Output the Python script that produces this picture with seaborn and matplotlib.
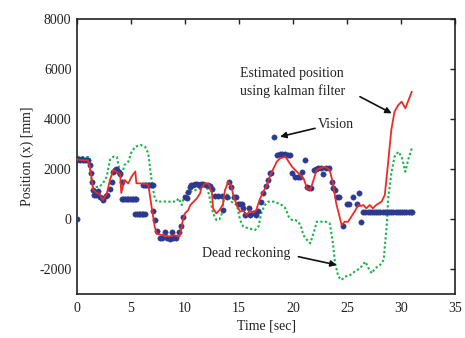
import numpy as np
import pandas as pd
import matplotlib
matplotlib.use("Agg")
import matplotlib.pyplot as plt
import seaborn as sns

# ---- Kalman filter estimate (red) ----
kal_t = [0, 0.5, 1.0, 1.2, 1.5, 1.8, 2.1, 2.4, 2.75, 3.05, 3.36, 3.7, 4.0, 4.1, 4.4, 4.75,
         5.06, 5.4, 5.5, 6.0, 6.6, 6.9, 7.2, 7.4, 8.0, 8.5, 9.0, 9.5, 9.7, 9.8, 10.0, 10.3,
         10.5, 10.8, 11.1, 11.4, 11.5, 11.85, 12.2, 12.5, 12.6, 12.9, 13.2, 13.5, 13.7, 14.0,
         14.3, 14.5, 14.8, 15.1, 15.4, 15.7, 16.0, 16.3, 16.6, 16.9, 17.25, 17.6, 17.9, 18.2,
         18.5, 18.8, 19.3, 19.6, 19.9, 20.2, 20.5, 20.8, 21.0, 21.3, 21.6, 21.9, 22.2, 22.5,
         22.96, 23.4, 23.7, 24.0, 24.35, 24.5, 24.8, 25.1, 25.4, 25.7, 26.05, 26.3, 26.5, 26.8,
         27.1, 27.4, 27.7, 28.2, 28.5, 28.8, 29.1, 29.4, 29.75, 30.06, 30.4, 30.7, 31.0]
kal_v = [2380, 2350, 2350, 2100, 1160, 1050, 1000, 760, 1000, 1560, 1960, 1880, 1800, 1040, 1560, 1420,
         1700, 1900, 1430, 1420, 1380, 500, -320, -600, -650, -700, -650, -700, -307, -40, 227, 360,
         560, 693, 827, 1027, 1227, 1427, 1400, 1027, 427, 227, 360, 560, 1150, 1493,
         1300, 893, 560, 293, 330, 160, 327, 250, 360, 760, 1093, 1360, 1760, 2027,
         2293, 2427, 2493, 2293, 2093, 1960, 1827, 1700, 1600, 1227, 1160, 1560, 1960, 2027,
         2093, 1960, 1427, 627, 27, -240, -107, -110, 93, 293, 560, 520, 560, 427,
         560, 427, 560, 693, 960, 2227, 3560, 4293, 4560, 4693, 4427, 4760, 5093]

# ---- Dead reckoning (green dotted) ----
dr_t = [0, 1.05, 1.2, 1.5, 1.8, 2.1, 2.4, 2.75, 3.05, 3.36, 3.7, 3.8, 4.1, 4.4, 4.75, 5.06,
        5.4, 5.9, 6.3, 6.6, 6.9, 7.2, 7.4, 8.0, 8.5, 9.2, 9.4, 9.7, 10.0, 10.5, 11.0, 11.5,
        11.85, 12.0, 12.3, 12.6, 12.9, 13.2, 13.4, 13.5, 13.7, 14.0, 14.3, 14.8, 15.1, 15.4,
        15.9, 16.5, 16.8, 17.1, 17.4, 17.7, 18.2, 18.5, 18.95, 19.3, 19.6, 19.9, 20.2, 20.5,
        20.8, 20.95, 21.3, 21.6, 21.9, 22.2, 22.6, 23.0, 23.4, 23.7, 23.9, 24.2, 24.5, 24.8,
        25.3, 25.7, 26.2, 26.7, 27.0, 27.3, 27.6, 28.06, 28.4, 28.5, 28.7, 28.8, 29.1, 29.4,
        29.75, 30.06, 30.4, 30.7, 31.0]
dr_v = [2480, 2480, 1960, 1227, 1280, 1300, 1427, 1693, 2360, 2493, 2480, 2227, 1693, 2160, 2293, 2693,
        2893, 2960, 2893, 2627, 1560, 827, 693, 700, 693, 700, 827, 560, 1027, 1093, 1160, 1227,
        1427, 1350, 827, 227, -40, -7, 200, 560, 1000, 960, 693, 560, -40, -307,
        -373, -440, -307, 293, 560, 693, 693, 650, 560, 427, 93, -40, -40, -107,
        -373, -640, -840, -973, -573, -107, -107, -107, -173, -973, -1773, -2307, -2440, -2307,
        -2240, -2107, -1973, -1707, -1973, -2173, -1973, -1840, -1640, -1107, -173, 760, 1827, 2493,
        2693, 2493, 1893, 2427, 2827]

# ---- Vision measurements (blue dots) ----
vis_t = [0.0,
         0.0, 0.15, 0.3, 0.45, 0.6, 0.75, 0.9, 1.05,
         1.2, 1.27, 1.36, 1.5, 1.6, 1.73, 1.85, 1.97, 2.15, 2.29, 2.44, 2.66, 2.8, 3.06, 3.2,
         3.36, 3.5, 3.58, 3.72, 3.86, 4.0, 4.14,
         4.14, 4.3, 4.45, 4.6, 4.75, 4.9, 5.05, 5.2, 5.35, 5.5,
         5.4, 5.55, 5.7, 5.85, 6.0, 6.15, 6.3,
         6.1, 6.25, 6.4, 6.55, 6.7, 6.85, 7.0,
         7.07, 7.2, 7.45, 7.7, 7.9, 8.15, 8.35, 8.6, 8.76, 8.9, 9.2, 9.45, 9.6, 9.8,
         10.0, 10.15, 10.3, 10.5, 10.6, 10.75, 10.9, 11.1, 11.3, 11.5, 11.7, 11.9, 12.1, 12.3,
         12.5, 12.8, 13.1, 13.4, 13.55, 13.86, 14.1, 14.3, 14.5, 14.7, 14.9, 15.1, 15.25,
         15.4, 15.55, 15.9, 16.0, 16.3, 16.55, 16.8, 17.0, 17.25, 17.5, 17.7, 17.85, 18.0,
         18.27, 18.55, 18.8, 19.0, 19.3, 19.5, 19.7, 19.9, 20.2, 20.5, 20.65, 20.8, 21.1,
         21.27, 21.5, 21.7, 21.9, 22.1, 22.3, 22.55, 22.75, 23.06, 23.3, 23.6, 23.73, 23.9,
         24.1, 24.3, 24.66, 24.97, 25.2, 25.6, 25.9, 26.15, 26.3,
         26.5, 26.7, 26.9, 27.1, 27.3, 27.5, 27.7, 27.9, 28.1, 28.3, 28.5, 28.7, 28.9, 29.1,
         29.3, 29.5, 29.7, 29.9, 30.1, 30.3, 30.5, 30.7, 30.9, 31.0]
vis_v = [0,
         2380, 2400, 2380, 2400, 2380, 2380, 2380, 2350,
         2150, 1840, 1493, 1160, 960, 960, 1000, 1133, 900, 827, 760, 920, 960, 1187, 1500,
         1893, 1960, 1987, 1950, 1900, 1800, 1493,
         787, 787, 787, 787, 787, 787, 787, 787, 787, 787,
         200, 200, 200, 200, 200, 200, 200,
         1360, 1360, 1360, 1360, 1360, 1360, 1360,
         330, -40, -467, -747, -747, -533, -747, -780, -533, -747, -747, -520, -293, 67,
         867, 850, 1093, 1300, 1347, 1380, 1400, 1400, 1380, 1400, 1400, 1380, 1360, 1330,
         1200, 920, 920, 920, 360, 893, 1493, 1300, 893, 893, 600, 600, 600,
         427, 160, 427, 160, 227, 160, 333, 693, 1027, 1333, 1560, 1827, 1850,
         3267, 2560, 2600, 2600, 2600, 2580, 2560, 1827, 1693, 1680, 1693, 1893, 2373,
         1293, 1227, 1250, 1960, 1987, 2027, 2050, 1800, 2053, 2053, 1467, 1227, 1160,
         893, 893, -267, 587, 587, 893, 587, 1053, -107,
         300, 300, 300, 300, 300, 300, 300, 300, 300, 300, 300, 300, 300, 300,
         300, 300, 300, 300, 300, 300, 300, 300, 300, 300]

kal = pd.DataFrame({"t": kal_t, "v": kal_v})
dr = pd.DataFrame({"t": dr_t, "v": dr_v})
vis = pd.DataFrame({"t": vis_t, "v": vis_v})

sns.set_style("white")
plt.rcParams["font.family"] = ["Liberation Serif", "DejaVu Serif"]

fig = plt.figure(figsize=(4.65, 3.38), dpi=100)
ax = fig.add_axes([77 / 465, 1 - 294 / 338, (455 - 77) / 465, (294 - 19) / 338])

sns.lineplot(data=dr, x="t", y="v", ax=ax, color="#1db34a", lw=1.5,
             linestyle=(0, (1.1, 1.1)), sort=False, estimator=None)
sns.scatterplot(data=vis, x="t", y="v", ax=ax, color="#2b3990", s=15,
                marker="o", edgecolor="#2b3990", linewidth=0.3, zorder=3)
sns.lineplot(data=kal, x="t", y="v", ax=ax, color="#ee2a24", lw=1.3,
             sort=False, estimator=None, zorder=4)

ax.set_xlim(0, 35)
ax.set_ylim(-3000, 8000)
ax.set_xticks([0, 5, 10, 15, 20, 25, 30, 35])
ax.set_yticks([-2000, 0, 2000, 4000, 6000, 8000])
ax.set_xticklabels(["0", "5", "10", "15", "20", "25", "30", "35"])
ax.set_yticklabels(["-2000", "0", "2000", "4000", "6000", "8000"])
ax.tick_params(direction="in", length=3.5, width=1, top=True, right=True,
               labelsize=10, colors="#222222")
ax.tick_params(axis="x", pad=6)
ax.tick_params(axis="y", pad=4)
for s in ax.spines.values():
    s.set_color("#222222")
    s.set_linewidth(1.2)

ax.set_xlabel("Time [sec]", fontsize=10, color="#222222", labelpad=3)
ax.set_ylabel("Position (x) [mm]", fontsize=10, color="#222222", labelpad=4)

txtkw = dict(fontsize=10, color="#222222")
arrkw = dict(arrowstyle="-|>", color="#111111", lw=1.2, mutation_scale=9,
             shrinkA=0, shrinkB=0)
ax.text(15.1, 5460, "Estimated position\nusing kalman filter", ha="left", va="center",
        linespacing=1.3, **txtkw)
ax.annotate("", xy=(29.14, 4227), xytext=(26.2, 4893), arrowprops=arrkw)
ax.text(22.3, 3760, "Vision", ha="left", va="center", **txtkw)
ax.annotate("", xy=(18.8, 3293), xytext=(22.04, 3627), arrowprops=arrkw)
ax.text(11.55, -1400, "Dead reckoning", ha="left", va="center", **txtkw)
ax.annotate("", xy=(24.05, -1840), xytext=(20.5, -1507), arrowprops=arrkw)

fig.savefig("out.png", dpi=100)
